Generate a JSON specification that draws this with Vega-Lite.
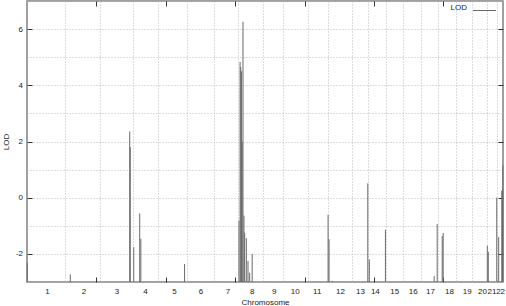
{
  "$schema": "https://vega.github.io/schema/vega-lite/v6.json",
  "width": 476,
  "height": 281,
  "autosize": {"type": "none"},
  "padding": {"left": 27, "top": 1, "right": 3, "bottom": 24},
  "background": "white",
  "config": {
    "view": {"stroke": "#808080", "strokeWidth": 1.5},
    "font": "Liberation Sans",
    "axis": {
      "labelFont": "Liberation Sans",
      "titleFont": "Liberation Sans",
      "labelFontSize": 8,
      "titleFontSize": 8,
      "titleFontWeight": "normal",
      "labelColor": "#222",
      "titleColor": "#222",
      "domain": false,
      "gridColor": "#b8b8b8",
      "gridDash": [1, 2],
      "gridWidth": 1,
      "tickColor": "#333",
      "tickWidth": 1
    }
  },
  "datasets": {
    "lod": [
      {"chromosome": "1", "pos": 2, "lod": -2.31},
      {"chromosome": "2", "pos": 312, "lod": -2.73},
      {"chromosome": "3", "pos": 740, "lod": 2.36},
      {"chromosome": "3", "pos": 744, "lod": 1.8},
      {"chromosome": "4", "pos": 769, "lod": -1.76},
      {"chromosome": "4", "pos": 812, "lod": -0.56},
      {"chromosome": "4", "pos": 820, "lod": -1.46},
      {"chromosome": "5", "pos": 1135, "lod": -2.36},
      {"chromosome": "8", "pos": 1527, "lod": -0.82},
      {"chromosome": "8", "pos": 1535, "lod": 4.83},
      {"chromosome": "8", "pos": 1540, "lod": 4.65},
      {"chromosome": "8", "pos": 1545, "lod": 4.5},
      {"chromosome": "8", "pos": 1550, "lod": 2.0},
      {"chromosome": "8", "pos": 1556, "lod": 6.26},
      {"chromosome": "8", "pos": 1563, "lod": -0.64},
      {"chromosome": "8", "pos": 1568, "lod": -1.24},
      {"chromosome": "8", "pos": 1580, "lod": -1.44},
      {"chromosome": "8", "pos": 1592, "lod": -2.25},
      {"chromosome": "8", "pos": 1604, "lod": -2.67},
      {"chromosome": "8", "pos": 1622, "lod": -2.0},
      {"chromosome": "11", "pos": 2169, "lod": -0.61},
      {"chromosome": "12", "pos": 2176, "lod": -1.48},
      {"chromosome": "12", "pos": 2198, "lod": -2.96},
      {"chromosome": "13", "pos": 2455, "lod": 0.51},
      {"chromosome": "14", "pos": 2466, "lod": -2.2},
      {"chromosome": "14", "pos": 2582, "lod": -1.14},
      {"chromosome": "17", "pos": 2933, "lod": -2.79},
      {"chromosome": "17", "pos": 2955, "lod": -0.94},
      {"chromosome": "18", "pos": 2991, "lod": -1.36},
      {"chromosome": "18", "pos": 2998, "lod": -1.26},
      {"chromosome": "20", "pos": 3316, "lod": -1.71},
      {"chromosome": "21", "pos": 3323, "lod": -1.92},
      {"chromosome": "21", "pos": 3384, "lod": 0.0},
      {"chromosome": "22", "pos": 3398, "lod": -1.4},
      {"chromosome": "22", "pos": 3420, "lod": 0.25},
      {"chromosome": "22", "pos": 3426, "lod": 0.3},
      {"chromosome": "22", "pos": 3428, "lod": 1.15}
    ]
  },
  "data": {"name": "lod"},
  "layer": [
    {
      "mark": {"type": "rule", "strokeWidth": 1},
      "encoding": {
        "x": {
          "field": "pos",
          "type": "quantitative",
          "scale": {"domain": [0, 3429], "nice": false, "zero": false},
          "axis": {
            "orient": "bottom",
            "title": "Chromosome",
            "titlePadding": 3,
            "values": [143, 274, 406, 500, 524, 644, 762, 850, 947, 1000, 1059, 1153, 1250, 1344, 1445, 1500, 1522, 1618, 1699, 1777, 1844, 1929, 2000, 2021, 2087, 2169, 2255, 2338, 2398, 2457, 2500, 2506, 2583, 2645, 2710, 2778, 2839, 2903, 2963, 3000, 3040, 3088, 3167, 3208, 3278, 3317, 3346, 3384, 3408],
            "grid": true,
            "gridOpacity": {"condition": {"test": "indexof([274, 524, 762, 947, 1153, 1344, 1522, 1699, 1844, 2021, 2169, 2338, 2457, 2583, 2710, 2839, 2963, 3088, 3208, 3317, 3384], datum.value) >= 0", "value": 1}, "value": 0},
            "ticks": true,
            "tickSize": -5,
            "tickOpacity": {"condition": {"test": "datum.value % 500 === 0", "value": 1}, "value": 0},
            "labelPadding": 10,
            "labelExpr": "indexof([143, 406, 644, 850, 1059, 1250, 1445, 1618, 1777, 1929, 2087, 2255, 2398, 2506, 2645, 2778, 2903, 3040, 3167, 3278, 3346, 3408], datum.value) >= 0 ? '' + (indexof([143, 406, 644, 850, 1059, 1250, 1445, 1618, 1777, 1929, 2087, 2255, 2398, 2506, 2645, 2778, 2903, 3040, 3167, 3278, 3346, 3408], datum.value) + 1) : ''",
            "labelOverlap": false,
            "labelFlush": false,
            "labelBound": false
          }
        },
        "y": {
          "field": "lod",
          "type": "quantitative",
          "scale": {"domain": [-3, 7], "nice": false, "zero": false},
          "axis": {
            "orient": "left",
            "title": "LOD",
            "titlePadding": 5,
            "values": [-3, -2, -1, 0, 1, 2, 3, 4, 5, 6, 7],
            "grid": true,
            "ticks": true,
            "tickSize": -5,
            "tickOpacity": {"condition": {"test": "datum.value % 2 === 0", "value": 1}, "value": 0},
            "labelPadding": 9.5,
            "labelExpr": "datum.value % 2 === 0 ? '' + datum.value : ''",
            "labelOverlap": false,
            "labelFlush": false,
            "labelBound": false
          }
        },
        "y2": {"datum": -3},
        "color": {
          "datum": "LOD",
          "scale": {"range": ["#6a6a6a"]},
          "legend": {
            "orient": "none",
            "legendX": 423.5,
            "legendY": -2.5,
            "title": "LOD",
            "titleOrient": "left",
            "titleAnchor": "middle",
            "titleBaseline": "middle",
            "titleFont": "Liberation Sans",
            "titleFontSize": 8,
            "titleFontWeight": "normal",
            "titleColor": "#222",
            "titlePadding": 5,
            "labelExpr": "''",
            "labelOffset": 0,
            "padding": 0,
            "symbolType": "stroke",
            "symbolSize": 529,
            "symbolStrokeWidth": 1,
            "symbolOffset": 0
          }
        }
      }
    },
    {
      "mark": {"type": "rule", "opacity": 0},
      "encoding": {
        "x": {
          "field": "pos",
          "type": "quantitative",
          "axis": {
            "orient": "top",
            "title": null,
            "values": [500, 1000, 1500, 2000, 2500, 3000],
            "labels": false,
            "grid": false,
            "ticks": true,
            "tickSize": -5
          }
        },
        "y": {
          "field": "lod",
          "type": "quantitative",
          "axis": {
            "orient": "right",
            "title": null,
            "values": [-2, 0, 2, 4, 6],
            "labels": false,
            "grid": false,
            "ticks": true,
            "tickSize": -5
          }
        }
      }
    }
  ],
  "resolve": {"axis": {"x": "independent", "y": "independent"}}
}
